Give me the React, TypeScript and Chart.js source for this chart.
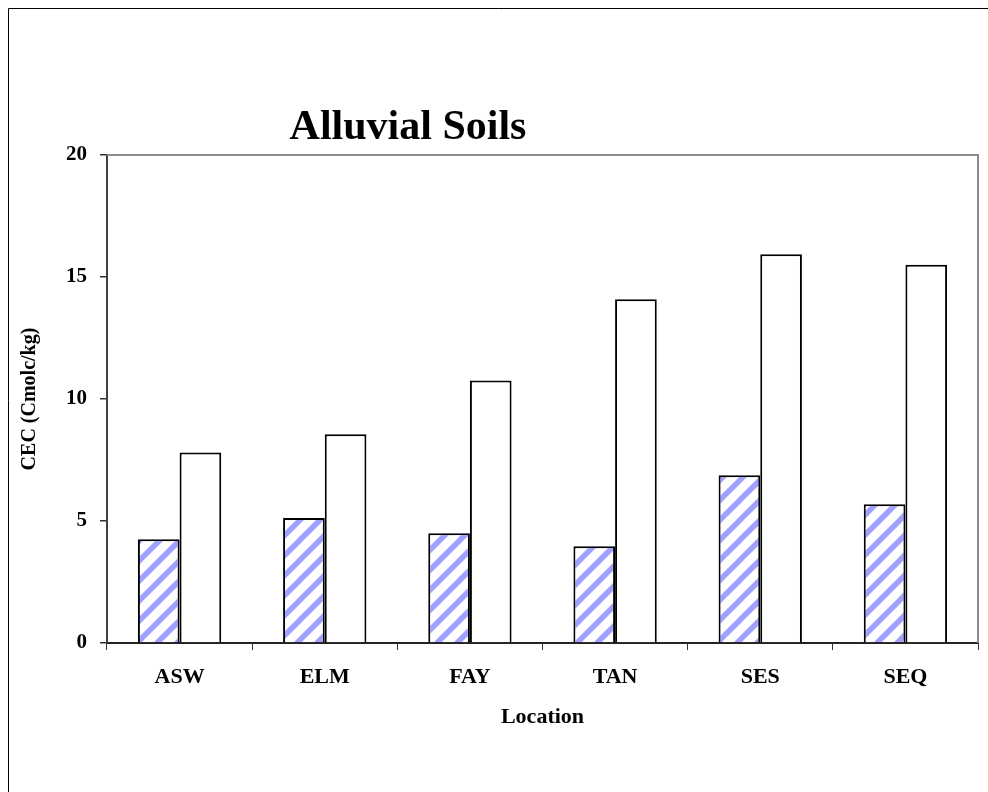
import React, { useEffect, useRef } from "react";
import { Chart, registerables } from "chart.js";

Chart.register(...registerables);

const locations = ["ASW", "ELM", "FAY", "TAN", "SES", "SEQ"];
const hatchedValues = [4.25, 5.12, 4.5, 3.97, 6.87, 5.69];
const openValues = [7.81, 8.56, 10.76, 14.09, 15.93, 15.5];
const yTicks = [0, 5, 10, 15, 20];

const chartTitle = "Alluvial Soils";
const xTitle = "Location";
const yTitle = "CEC (Cmolc/kg)";

const SERIF = "'Liberation Serif', 'Times New Roman', Times, serif";

function makeHatch(): CanvasPattern | string {
  const size = 20;
  const c = document.createElement("canvas");
  c.width = size;
  c.height = size;
  const g = c.getContext("2d");
  if (!g) return "#9999ff";
  g.fillStyle = "#ffffff";
  g.fillRect(0, 0, size, size);
  g.strokeStyle = "rgb(160,160,255)";
  g.lineWidth = 5.5;
  for (let k = -1; k <= 1; k++) {
    g.beginPath();
    g.moveTo(k * size - 2, size + 2);
    g.lineTo(k * size + size + 2, -2);
    g.stroke();
  }
  const p = g.createPattern(c, "repeat");
  return p || "#9999ff";
}

const framePlugin = {
  id: "frame",
  beforeDraw(chart: any) {
    const { ctx, width, height } = chart;
    ctx.save();
    ctx.fillStyle = "#ffffff";
    ctx.fillRect(0, 0, width, height);
    ctx.strokeStyle = "#000000";
    ctx.lineWidth = 1;
    ctx.beginPath();
    ctx.moveTo(8.5, height);
    ctx.lineTo(8.5, 8.5);
    ctx.lineTo(width, 8.5);
    ctx.stroke();
    ctx.restore();
  },
  afterDraw(chart: any) {
    const { ctx, chartArea } = chart;
    ctx.save();
    // plot-area outline on the top and right sides
    ctx.strokeStyle = "#8a8a8a";
    ctx.lineWidth = 2;
    ctx.beginPath();
    ctx.moveTo(chartArea.left, chartArea.top);
    ctx.lineTo(chartArea.right, chartArea.top);
    ctx.lineTo(chartArea.right, chartArea.bottom);
    ctx.stroke();
    // chart heading
    ctx.fillStyle = "#000000";
    ctx.font = `bold 42px ${SERIF}`;
    ctx.textAlign = "center";
    ctx.textBaseline = "alphabetic";
    ctx.fillText(chartTitle, 408, 139);
    ctx.restore();
  },
};

export default function App() {
  const ref = useRef<HTMLCanvasElement>(null);

  useEffect(() => {
    if (!ref.current) return;
    const hatch = makeHatch();
    const chart = new Chart(ref.current, {
      type: "bar",
      data: {
        labels: locations,
        datasets: [
          {
            data: hatchedValues,
            backgroundColor: hatch as any,
            borderColor: "#000000",
            borderWidth: 2,
          },
          {
            data: openValues,
            backgroundColor: "#ffffff",
            borderColor: "#000000",
            borderWidth: 2,
          },
        ],
      },
      options: {
        animation: false,
        responsive: false,
        maintainAspectRatio: false,
        layout: { padding: { top: 155, right: 10, left: 0, bottom: 0 } },
        datasets: {
          bar: { categoryPercentage: 0.574, barPercentage: 1 },
        },
        plugins: {
          legend: { display: false },
          title: { display: false },
          tooltip: { enabled: false },
        },
        scales: {
          x: {
            offset: true,
            grid: {
              offset: true,
              drawOnChartArea: false,
              drawTicks: true,
              tickLength: 7,
              tickColor: "#333333",
              lineWidth: 1,
            },
            border: { display: true, color: "#222222", width: 2 },
            ticks: {
              color: "#000000",
              padding: 14,
              font: { family: SERIF, size: 22, weight: "bold" },
            },
            title: {
              display: true,
              text: xTitle,
              color: "#000000",
              font: { family: SERIF, size: 22, weight: "bold" },
              padding: { top: 0, bottom: 61 },
            },
            afterFit(scale: any) {
              scale.height = 149;
            },
          },
          y: {
            min: 0,
            max: 20,
            afterBuildTicks(scale: any) {
              scale.ticks = yTicks.map((v) => ({ value: v }));
            },
            grid: {
              drawOnChartArea: false,
              drawTicks: true,
              tickLength: 7,
              tickColor: "#333333",
              lineWidth: 1.5,
            },
            border: { display: true, color: "#404040", width: 2 },
            ticks: {
              color: "#000000",
              padding: 13,
              font: { family: SERIF, size: 21, weight: "bold" },
            },
            title: {
              display: true,
              text: yTitle,
              color: "#000000",
              font: { family: SERIF, size: 20, weight: "bold" },
              padding: { top: 18, bottom: 0 },
            },
            afterFit(scale: any) {
              scale.width = 107;
            },
          },
        },
      },
      plugins: [framePlugin],
    });
    return () => chart.destroy();
  }, []);

  return (
    <div style={{ position: "absolute", left: 0, top: 0, width: 988, height: 792 }}>
      <canvas ref={ref} width={988} height={792} style={{ display: "block" }} />
    </div>
  );
}
